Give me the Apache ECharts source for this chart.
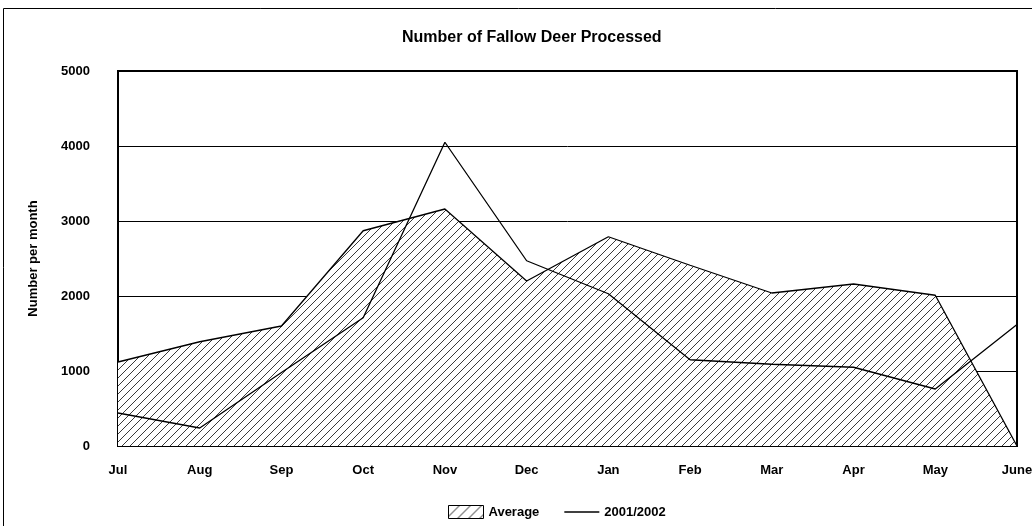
<!DOCTYPE html>
<html>
<head>
<meta charset="utf-8">
<style>
  html, body { margin: 0; padding: 0; background: #fff; }
  #chart { width: 1032px; height: 526px; }
</style>
<script src="https://cdn.jsdelivr.net/npm/echarts@6/dist/echarts.min.js"></script>
</head>
<body>
<div id="chart"></div>
<script>
// Monthly counts of fallow deer processed
const months = ['Jul', 'Aug', 'Sep', 'Oct', 'Nov', 'Dec', 'Jan', 'Feb', 'Mar', 'Apr', 'May', 'June'];
const averageValues = [1120, 1390, 1600, 2870, 3160, 2200, 2790, 2410, 2040, 2160, 2010, 0];
const season2001Values = [440, 240, 980, 1710, 4050, 2470, 2030, 1150, 1090, 1050, 760, 1620];
const yTicks = [0, 1000, 2000, 3000, 4000, 5000];

const FONT = '"Liberation Sans", Arial, sans-serif';

// Diagonal hatch tile on an opaque white ground
function makeHatch(size, color) {
  const c = document.createElement('canvas');
  c.width = size; c.height = size;
  const g = c.getContext('2d');
  g.fillStyle = '#ffffff';
  g.fillRect(0, 0, size, size);
  g.strokeStyle = color;
  g.lineWidth = 1;
  g.beginPath();
  g.moveTo(0, size); g.lineTo(size, 0);
  g.moveTo(-2, 2); g.lineTo(2, -2);
  g.moveTo(size - 2, size + 2); g.lineTo(size + 2, size - 2);
  g.stroke();
  return c;
}

const hatchFill = { image: makeHatch(8, '#3a3a3a'), repeat: 'repeat' };
const legendHatch = { image: makeHatch(11, '#222222'), repeat: 'repeat' };

const chart = echarts.init(document.getElementById('chart'), null, { renderer: 'canvas' });

chart.setOption({
  animation: false,
  backgroundColor: '#ffffff',
  title: {
    text: 'Number of Fallow Deer Processed',
    left: 397,
    top: 25,
    textStyle: { fontFamily: FONT, fontSize: 16, fontWeight: 'bold', color: '#000' }
  },
  graphic: [{
    type: 'rect',
    shape: { x: 3.5, y: 8.5, width: 1100, height: 1100 },
    style: { fill: 'none', stroke: '#000', lineWidth: 1 },
    silent: true,
    z: 100
  }],
  legend: {
    left: 443,
    top: 500,
    itemWidth: 35,
    itemHeight: 13,
    itemGap: 25,
    itemTextGap: 9,
    textStyle: { fontFamily: FONT, fontSize: 13, fontWeight: 'bold', color: '#000' },
    data: [
      { name: 'Average', icon: 'rect', itemStyle: { color: legendHatch, borderColor: '#000', borderWidth: 1 } },
      { name: '2001/2002', icon: 'path://M0,0H30V1.2H0Z', itemStyle: { color: '#000' } }
    ]
  },
  grid: {
    left: 118, right: 15, top: 71, bottom: 80,
    outerBoundsMode: 'none',
    containLabel: false,
    show: true,
    borderColor: '#000',
    borderWidth: 2,
    backgroundColor: 'transparent'
  },
  xAxis: {
    type: 'category',
    data: months,
    boundaryGap: false,
    axisLine: { show: true, lineStyle: { color: '#000', width: 2 } },
    axisTick: { show: false },
    splitLine: { show: false },
    axisLabel: {
      margin: 18,
      fontFamily: FONT, fontSize: 13, fontWeight: 'bold', color: '#000',
      interval: 0
    }
  },
  yAxis: {
    type: 'value',
    min: yTicks[0],
    max: yTicks[yTicks.length - 1],
    interval: yTicks[1] - yTicks[0],
    name: 'Number per month',
    nameLocation: 'middle',
    nameRotate: 90,
    nameGap: 78,
    nameTextStyle: { fontFamily: FONT, fontSize: 13, fontWeight: 'bold', color: '#000' },
    axisLine: { show: true, lineStyle: { color: '#000', width: 2 } },
    axisTick: { show: false },
    splitLine: { show: true, lineStyle: { color: '#000', width: 1 } },
    axisLabel: {
      margin: 28,
      formatter: (v) => String(v),
      fontFamily: FONT, fontSize: 13, fontWeight: 'bold', color: '#000'
    }
  },
  series: [
    {
      name: 'Average',
      type: 'line',
      data: averageValues,
      symbol: 'none',
      lineStyle: { color: '#000', width: 1.3 },
      itemStyle: { color: '#000' },
      areaStyle: { color: hatchFill, opacity: 1 },
      z: 2
    },
    {
      name: '2001/2002',
      type: 'line',
      data: season2001Values,
      symbol: 'none',
      lineStyle: { color: '#000', width: 1.3 },
      itemStyle: { color: '#000' },
      z: 3
    }
  ]
});
</script>
</body>
</html>
